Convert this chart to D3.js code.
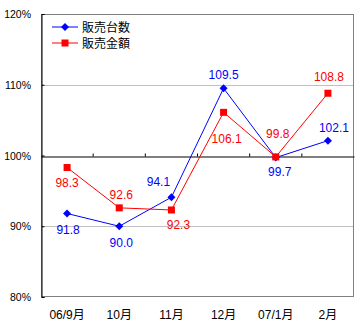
<!DOCTYPE html>
<html><head><meta charset="utf-8">
<script src="https://cdn.jsdelivr.net/npm/d3@7"></script>
<style>body{margin:0;background:#fff}svg{display:block}text{font-family:"Liberation Sans","Noto Sans CJK JP",sans-serif}</style>
</head><body>
<script>
const categories = ["06/9月","10月","11月","12月","07/1月","2月"];
const unitsSold = [91.8, 90.0, 94.1, 109.5, 99.7, 102.1];
const salesAmount = [98.3, 92.6, 92.3, 106.1, 99.8, 108.8];
const seriesNames = ["販売台数","販売金額"];
const yTicks = [80, 90, 100, 110, 120];

const W = 364, H = 329;
const m = {left: 41, top: 14, right: 10, bottom: 32};
const svg = d3.select("body").append("svg").attr("width", W).attr("height", H);

const x = d3.scaleBand().domain(categories).range([m.left, W - m.right]);
const y = d3.scaleLinear().domain([80, 120]).range([H - m.bottom, m.top]);
const cx = d => x(d) + x.bandwidth() / 2;

// gridlines
svg.append("g").selectAll("line").data(yTicks.filter(t => t !== 100 && t !== 80 && t !== 120)).join("line")
  .attr("x1", m.left).attr("x2", W - m.right).attr("y1", d => Math.round(y(d)) + 0.5).attr("y2", d => Math.round(y(d)) + 0.5)
  .attr("stroke", "#c0c0c0");
// plot border
svg.append("rect").attr("x", m.left + 0.5).attr("y", y(120) + 0.5)
  .attr("width", W - m.right - m.left - 1).attr("height", y(80) - y(120) - 1)
  .attr("fill", "none").attr("stroke", "#808080");

// y axis
const yAxis = d3.axisRight(y).tickValues(yTicks).tickSize(3).tickFormat("");
const ga = svg.append("g").attr("transform", `translate(${m.left + 0.5},0)`).call(yAxis);
ga.select(".domain").attr("stroke", "#000");
ga.selectAll(".tick line").attr("stroke", "#000");
svg.append("g").selectAll("text").data(yTicks).join("text")
  .attr("x", 31).attr("y", d => y(d) + 4).attr("text-anchor", "end")
  .attr("font-size", 10.5).text(d => d + "%");

// category axis at 100%
const xAxis = d3.axisTop(x).tickSize(3).tickFormat("").tickSizeOuter(0);
const gx = svg.append("g").attr("transform", `translate(0,${Math.round(y(100)) + 0.5})`).call(xAxis);
gx.select(".domain").attr("stroke", "#000");
gx.selectAll(".tick line").attr("stroke", "#000")
  .attr("transform", () => `translate(${x.bandwidth() / 2},0)`);
gx.selectAll(".tick").filter((d, i) => i === categories.length - 1).remove();
// category labels
svg.append("g").selectAll("text").data(categories).join("text")
  .attr("x", d => cx(d)).attr("y", H - 10).attr("text-anchor", "middle")
  .attr("font-size", 12).text(d => d);

const series = [
  {name: seriesNames[0], values: unitsSold, color: "#0000ff", marker: "diamond"},
  {name: seriesNames[1], values: salesAmount, color: "#ff0000", marker: "square"}
];
// label offsets (dx, dy of label centre from point)
const labelOffsets = [
  [[1, 16], [2, 17], [-13, -15], [0, -13], [4, 14], [6, -13]],
  [[0, 15], [2, -13], [7, 15], [3, 27], [2, -23], [1, -16]]
];
const line = d3.line().x((d, i) => cx(categories[i])).y(d => y(d));

function drawMarker(g, type, color, px, py) {
  if (type === "diamond") {
    g.append("path").attr("d", "M0,-4L4,0L0,4L-4,0Z").attr("transform", `translate(${px},${py})`).attr("fill", color);
  } else {
    g.append("rect").attr("x", px - 3.5).attr("y", py - 3.5).attr("width", 7).attr("height", 7).attr("fill", color);
  }
}

series.forEach((s, si) => {
  const g = svg.append("g");
  g.append("path").datum(s.values).attr("d", line).attr("fill", "none").attr("stroke", s.color).attr("stroke-width", 1);
  s.values.forEach((v, i) => drawMarker(g, s.marker, s.color, cx(categories[i]), y(v)));
  g.selectAll("text").data(s.values).join("text")
    .attr("x", (d, i) => cx(categories[i]) + labelOffsets[si][i][0])
    .attr("y", (d, i) => y(d) + labelOffsets[si][i][1] + 4)
    .attr("text-anchor", "middle").attr("font-size", 12).attr("fill", s.color)
    .text(d => d.toFixed(1));
  // legend
  const ly = 27 + si * 16;
  svg.append("line").attr("x1", 52).attr("x2", 78).attr("y1", ly).attr("y2", ly).attr("stroke", s.color);
  drawMarker(svg, s.marker, s.color, 65, ly);
  svg.append("text").attr("x", 82).attr("y", ly + 5).attr("font-size", 12).text(s.name);
});
</script>
</body></html>
